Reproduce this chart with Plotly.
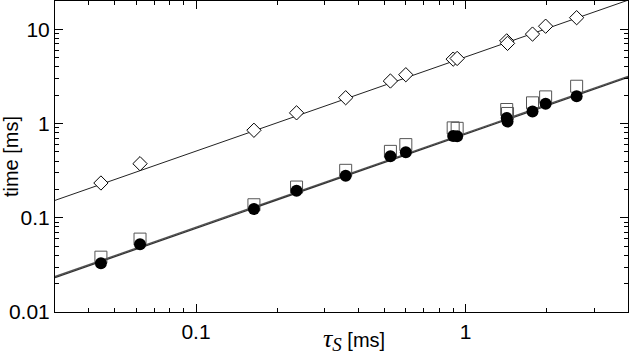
import plotly.graph_objs as go

# tau_S values [ms]
tau = [0.0444, 0.0620, 0.164, 0.236, 0.359, 0.526, 0.600, 0.899, 0.930, 1.42, 1.43, 1.77, 1.98, 2.58]

# measured times [ms]
t_diamond = [0.234, 0.375, 0.849, 1.30, 1.88, 2.83, 3.30, 4.83, 4.91, 7.55, 7.10, 8.91, 10.8, 13.3]
t_square = [0.0382, 0.0594, 0.1375, 0.212, 0.319, 0.507, 0.598, 0.90, 0.89, 1.41, 1.28, 1.66, 1.92, 2.49]
t_circle = [0.0330, 0.0525, 0.124, 0.194, 0.280, 0.451, 0.497, 0.736, 0.734, 1.144, 1.05, 1.342, 1.62, 1.95]

# fitted lines (end points at the axis limits)
fit_x = [0.03, 4.0]
fit_diamond = [0.153, 20.4]
fit_square = [0.0238, 3.17]
fit_circle = [0.0232, 3.09]

fig = go.Figure()

fig.add_trace(go.Scatter(x=fit_x, y=fit_diamond, mode="lines",
                         line=dict(color="#222222", width=1)))
fig.add_trace(go.Scatter(x=fit_x, y=fit_square, mode="lines",
                         line=dict(color="#555555", width=1.3)))
fig.add_trace(go.Scatter(x=fit_x, y=fit_circle, mode="lines",
                         line=dict(color="#333333", width=1.3)))

fig.add_trace(go.Scatter(x=tau, y=t_square, mode="markers",
                         marker=dict(symbol="square-open", size=12,
                                     color="#555555", line=dict(width=1))))
fig.add_trace(go.Scatter(x=tau, y=t_diamond, mode="markers",
                         marker=dict(symbol="diamond", size=11, color="white",
                                     line=dict(color="black", width=1))))
fig.add_trace(go.Scatter(x=tau, y=t_circle, mode="markers",
                         marker=dict(symbol="circle", size=12, color="black",
                                     line=dict(width=0))))

axis_common = dict(
    type="log", showgrid=False, zeroline=False, automargin=False,
    showline=True, linecolor="black", linewidth=1, mirror="allticks",
    ticks="inside", ticklen=8, tickcolor="black", dtick=1,
    minor=dict(ticks="inside", ticklen=4, tickcolor="black", dtick="D1", showgrid=False),
    tickfont=dict(family="Liberation Sans, Arial", size=21, color="black"),
)

fig.update_xaxes(range=[-1.5229, 0.6021], ticklabelstandoff=1, **axis_common)
fig.update_yaxes(range=[-2, 1.301], title=dict(text="time [ms]", standoff=1,
                 font=dict(family="Liberation Sans, Arial", size=20, color="black")),
                 **axis_common)

fig.add_annotation(
    text=("<span style='font-family:Liberation Serif;font-size:26px'><i>τ</i></span>"
          "<sub><span style='font-family:Liberation Serif;font-size:19px'><i>S</i></span></sub>"
          " [ms]"),
    xref="paper", yref="paper", x=0.522, y=-0.088, yanchor="middle", showarrow=False,
    font=dict(family="Liberation Sans, Arial", size=20, color="black"))

fig.update_layout(
    width=629, height=357, showlegend=False,
    margin=dict(l=55, r=1, t=1, b=45),
    plot_bgcolor="white", paper_bgcolor="white",
)

# drop the default page margin so the figure sits at the window's corner
fig.write_html("out.html", config={"displayModeBar": False},
               post_script="document.body.style.margin='0';")
